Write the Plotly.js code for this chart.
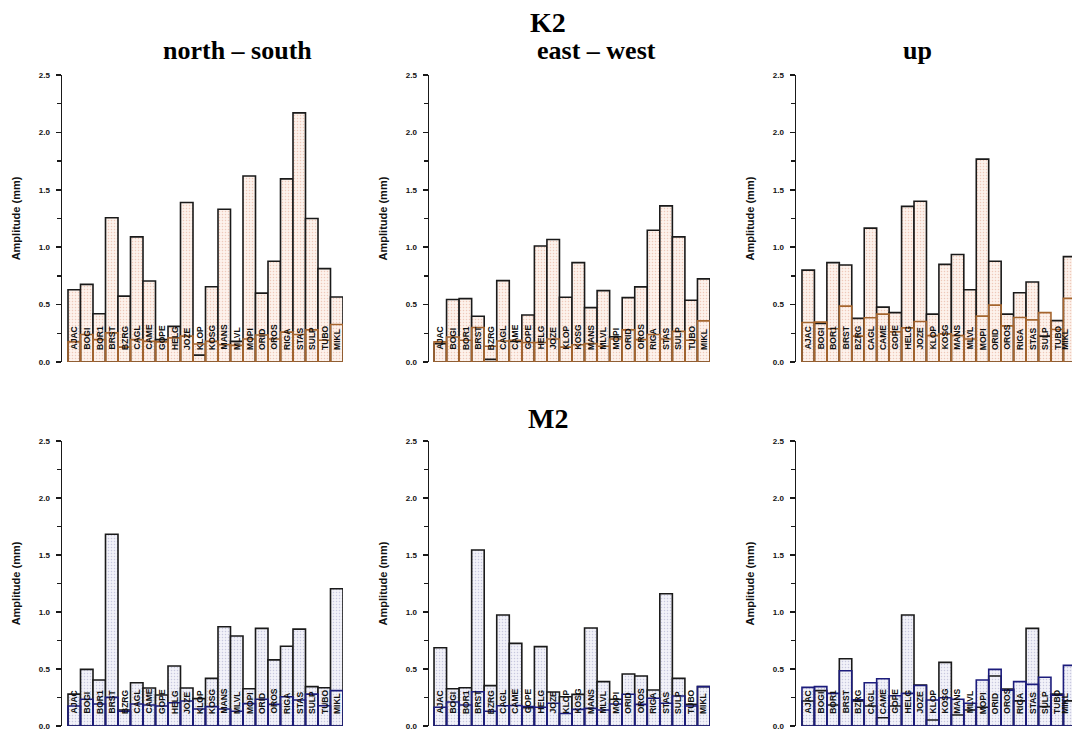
<!DOCTYPE html>
<html>
<head>
<meta charset="utf-8">
<script src="https://cdn.plot.ly/plotly-3.0.1.min.js"></script>
<style>html,body{margin:0;padding:0;background:#fff;}#chart{width:1072px;height:733px;}</style>
</head>
<body>
<div id="chart"></div>
<script>
// ---------- data ----------
const stations = ['AJAC','BOGI','BOR1','BRST','BZRG','CAGL','CAME','GOPE','HELG','JOZE','KLOP',
                  'KOSG','MANS','MLVL','MOPI','ORID','OROS','RIGA','STAS','SULP','TUBO','MIKL'];

const k2NS_amp = [0.63,0.676,0.42,1.256,0.574,1.09,0.705,0.195,0.31,1.39,0.06,0.656,1.33,0.18,1.62,0.60,0.877,1.595,2.17,1.25,0.813,0.566];
const k2NS_err = [0.175,0.24,0.195,0.254,0.13,0.195,0.18,0.175,0.21,0.225,0.157,0.18,0.15,0.145,0.2,0.235,0.2,0.26,0.24,0.28,0.19,0.327];

const k2EW_amp = [0.16,0.544,0.552,0.398,0.023,0.709,0.18,0.41,1.01,1.067,0.564,0.866,0.474,0.622,0.22,0.561,0.654,1.148,1.36,1.09,0.538,0.724];
const k2EW_err = [0.175,0.218,0.19,0.30,0.137,0.183,0.19,0.17,0.17,0.2,0.13,0.15,0.16,0.137,0.2,0.28,0.195,0.24,0.2,0.267,0.19,0.358];

const k2UP_amp = [0.80,0.335,0.866,0.845,0.38,1.166,0.478,0.43,1.356,1.40,0.417,0.85,0.936,0.63,1.767,0.878,0.417,0.603,0.697,0.225,0.36,0.918];
const k2UP_err = [0.344,0.347,0.29,0.487,0.225,0.385,0.417,0.262,0.297,0.353,0.23,0.245,0.23,0.2,0.40,0.495,0.315,0.388,0.367,0.43,0.283,0.554];

const m2NS_amp = [0.28,0.497,0.403,1.682,0.14,0.38,0.333,0.272,0.526,0.333,0.24,0.418,0.87,0.789,0.327,0.856,0.58,0.70,0.85,0.345,0.336,1.204];
const m2NS_err = [0.175,0.234,0.193,0.251,0.13,0.193,0.184,0.175,0.204,0.219,0.149,0.17,0.149,0.13,0.196,0.234,0.19,0.257,0.228,0.28,0.178,0.31];

const m2EW_amp = [0.687,0.327,0.336,1.544,0.354,0.974,0.725,0.16,0.696,0.298,0.257,0.277,0.86,0.389,0.234,0.456,0.438,0.316,1.16,0.418,0.19,0.345];
const m2EW_err = [0.164,0.21,0.184,0.30,0.13,0.178,0.18,0.17,0.164,0.2,0.11,0.146,0.155,0.14,0.193,0.278,0.19,0.243,0.2,0.263,0.175,0.345];

const m2UP_amp = [0.219,0.31,0.184,0.59,0.22,0.175,0.073,0.175,0.974,0.36,0.053,0.558,0.096,0.14,0.164,0.438,0.325,0.22,0.856,0.17,0.28,0.22];
const m2UP_err = [0.339,0.345,0.286,0.485,0.23,0.38,0.415,0.266,0.286,0.355,0.228,0.248,0.234,0.2,0.403,0.497,0.315,0.389,0.365,0.427,0.27,0.532];

const waveTitles = ['K2','M2'];
const compTitles = ['north \u2013 south','east \u2013 west','up'];
const yTitle = 'Amplitude (mm)';

// ---------- styling ----------
const W = 1072, H = 733;
const K2style = {edge:'#a5652e', bg:'#fdf2ec', fg:'#efc9ba'};
const M2style = {edge:'#1c1c7c', bg:'#f2f2f9', fg:'#c8c8df'};
const panels = [
  {amp:k2NS_amp, err:k2NS_err, st:K2style},
  {amp:k2EW_amp, err:k2EW_err, st:K2style},
  {amp:k2UP_amp, err:k2UP_err, st:K2style},
  {amp:m2NS_amp, err:m2NS_err, st:M2style},
  {amp:m2EW_amp, err:m2EW_err, st:M2style},
  {amp:m2UP_amp, err:m2UP_err, st:M2style}
];
const colX = [[62,343,-0.98,21.5],[429,710,-0.9,21.5],[796,1072,-0.98,21.19]];
const rowY = [[362,75],[726,441]];

const xs = stations.map((s,i)=>i);
const traces = [];
const annotations = [];
const sans = 'Liberation Sans, Arial, sans-serif';
const layout = {
  width:W, height:H, margin:{l:0,r:0,t:0,b:0},
  paper_bgcolor:'#fff', plot_bgcolor:'rgba(0,0,0,0)',
  showlegend:false, barmode:'overlay', bargap:0,
  font:{family:sans, color:'#111'}
};

panels.forEach((p,k)=>{
  const c = k%3, r = Math.floor(k/3);
  const n = k+1;
  const xa = 'x'+(n===1?'':n), ya = 'y'+(n===1?'':n);
  const pat = {shape:'.', fgcolor:p.st.fg, bgcolor:p.st.bg, size:3, solidity:0.2};
  traces.push({type:'bar', x:xs, y:p.err, xaxis:xa, yaxis:ya, width:1,
    marker:{color:p.st.bg, pattern:pat, line:{width:0}}, hoverinfo:'skip'});
  traces.push({type:'bar', x:xs, y:p.amp, xaxis:xa, yaxis:ya, width:1,
    marker:{color:p.st.bg, pattern:pat, line:{color:'#1a1a1a', width:1.6}}});
  traces.push({type:'bar', x:xs, y:p.err, xaxis:xa, yaxis:ya, width:1,
    marker:{color:'rgba(0,0,0,0)', line:{color:p.st.edge, width:1.6}}});
  const cx = colX[c], ry = rowY[r];
  layout['xaxis'+(n===1?'':n)] = {
    domain:[cx[0]/W, cx[1]/W], range:[cx[2],cx[3]], anchor:ya,
    showline:false, showgrid:false, zeroline:false, showticklabels:false, ticks:''
  };
  layout['yaxis'+(n===1?'':n)] = {
    domain:[(H-ry[0])/H, (H-ry[1])/H], range:[0,2.5], anchor:xa,
    showline:true, linecolor:'#1a1a1a', linewidth:1.5, showgrid:false, zeroline:false,
    ticks:'outside', ticklen:5, tickwidth:1.5, tickcolor:'#1a1a1a', dtick:0.5, tick0:0,
    tickformat:'.1f', ticklabelstandoff:4,
    tickfont:{family:sans, size:8, weight:'bold', color:'#111'},
    minor:{dtick:0.25, ticks:'outside', ticklen:4, tickwidth:1.5, tickcolor:'#1a1a1a'},
    title:{text:yTitle, standoff:16, font:{family:sans, size:11, weight:'bold', color:'#111'}}
  };
  stations.forEach((s,i)=>{
    const edgeLabel = (c===2 && i===stations.length-1);
    annotations.push({xref:xa, yref:ya, x:i, y:0.09, text:s, textangle:-90, showarrow:false,
      xanchor:'center', yanchor:'bottom', xshift: edgeLabel ? -4 : 0,
      font:{family:sans, size:8.5, weight:'bold', color:'#111'}});
  });
});

// titles
const serif = 'Liberation Serif, Times New Roman, serif';
annotations.push({xref:'paper', yref:'paper', x:548/W, y:(H-22)/H, text:waveTitles[0], showarrow:false,
  xanchor:'center', yanchor:'middle', font:{family:serif, size:28, weight:'bold', color:'#000'}});
annotations.push({xref:'paper', yref:'paper', x:548/W, y:(H-418)/H, text:waveTitles[1], showarrow:false,
  xanchor:'center', yanchor:'middle', font:{family:serif, size:28, weight:'bold', color:'#000'}});
const compX = [237, 596, 917];
compTitles.forEach((t,i)=>{
  annotations.push({xref:'paper', yref:'paper', x:compX[i]/W, y:(H-51)/H, text:t, showarrow:false,
    xanchor:'center', yanchor:'middle', font:{family:serif, size:26, weight:'bold', color:'#000'}});
});
layout.annotations = annotations;

Plotly.newPlot('chart', traces, layout, {staticPlot:true, displayModeBar:false});
</script>
</body>
</html>
